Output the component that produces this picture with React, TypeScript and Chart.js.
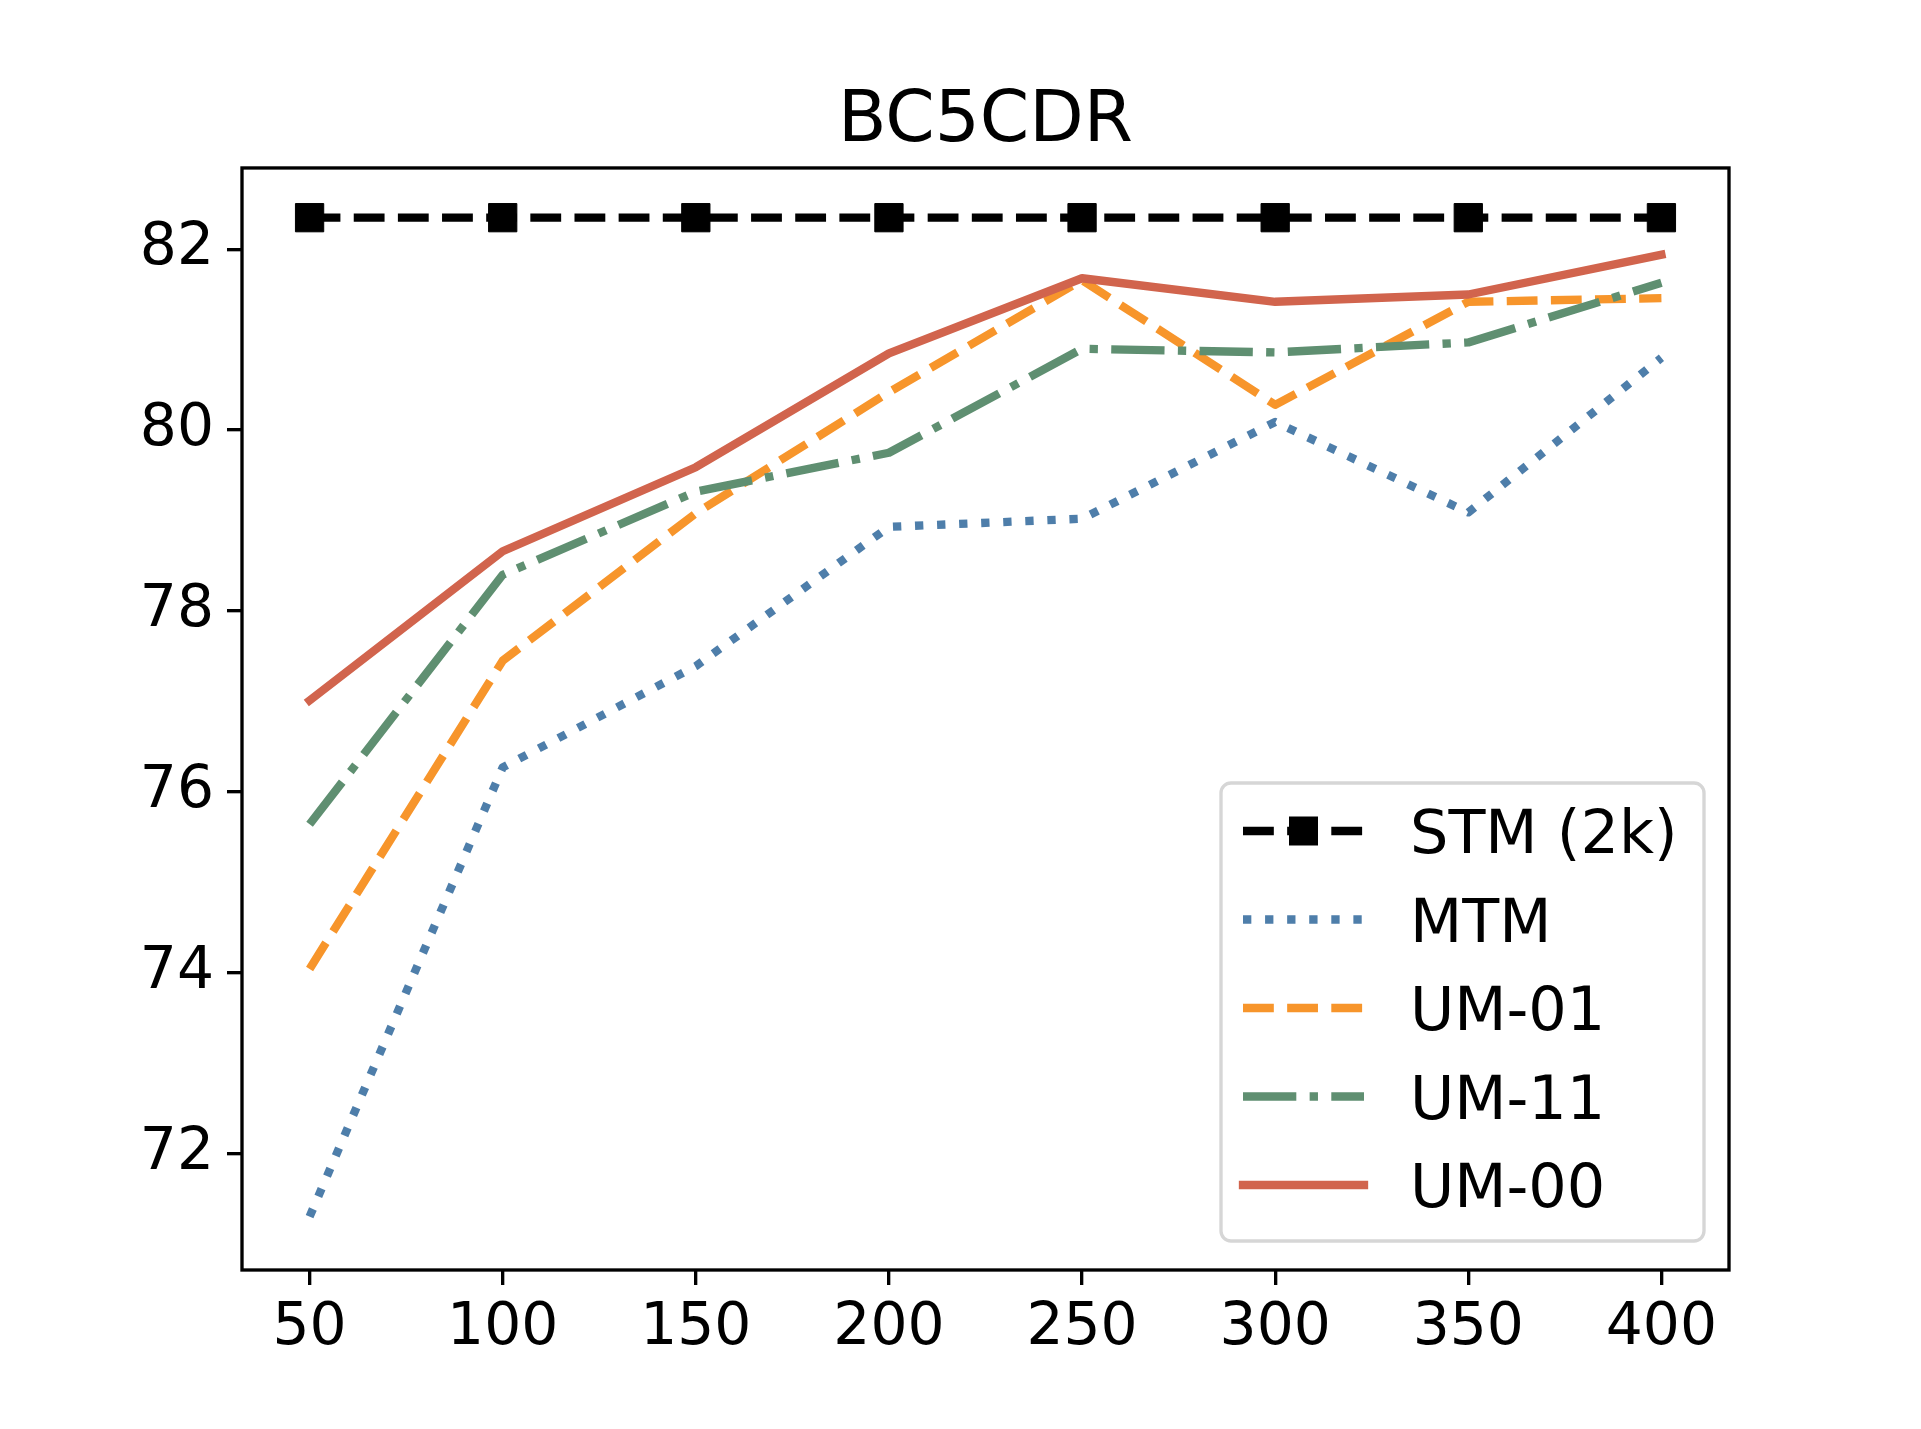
import React, { useEffect, useRef } from 'react';
import { Chart, registerables } from 'chart.js';

Chart.register(...registerables);

// training-set sizes on the x axis
const steps = [50, 100, 150, 200, 250, 300, 350, 400];

// scores
const stm = [82.35, 82.35, 82.35, 82.35, 82.35, 82.35, 82.35, 82.35];
const mtm = [71.3, 76.27, 77.39, 78.93, 79.02, 80.09, 79.09, 80.8];
const um01 = [74.04, 77.45, 79.08, 80.42, 81.66, 80.28, 81.42, 81.46];
const um11 = [75.64, 78.4, 79.32, 79.75, 80.9, 80.86, 80.97, 81.63];
const um00 = [77.01, 78.66, 79.59, 80.85, 81.68, 81.42, 81.5, 81.94];

const seriesNames = ['STM (2k)', 'MTM', 'UM-01', 'UM-11', 'UM-00'];
const xTicks = [50, 100, 150, 200, 250, 300, 350, 400];
const yTicks = [72, 74, 76, 78, 80, 82];

const FONT = '"DejaVu Sans", sans-serif';
const LW = 8.33;

const toPoints = (vals: number[]) => steps.map((x, i) => ({ x, y: vals[i] }));

// box around the plot area, drawn over the lines like matplotlib spines
const framePlugin = {
    id: 'frame',
    afterDatasetsDraw(chart: any) {
        const { ctx, chartArea } = chart;
        ctx.save();
        ctx.lineWidth = 3.33;
        ctx.strokeStyle = '#000';
        ctx.strokeRect(chartArea.left, chartArea.top, chartArea.right - chartArea.left, chartArea.bottom - chartArea.top);
        ctx.restore();
    },
};

// legend in the lower right corner of the plot area
const legendPlugin = {
    id: 'insideLegend',
    afterDraw(chart: any) {
        const { ctx, chartArea } = chart;
        const w = 483;
        const h = 458;
        const x0 = chartArea.right - 25 - w;
        const y0 = chartArea.bottom - 29 - h;
        ctx.save();
        ctx.beginPath();
        ctx.roundRect(x0, y0, w, h, 10);
        ctx.fillStyle = 'rgba(255,255,255,0.8)';
        ctx.fill();
        ctx.lineWidth = 3.33;
        ctx.strokeStyle = 'rgb(214,214,214)';
        ctx.stroke();

        chart.data.datasets.forEach((ds: any, i: number) => {
            const cy = y0 + 48 + i * 88.5;
            const sx = x0 + 22;
            const ex = sx + 121;
            ctx.beginPath();
            ctx.setLineDash(ds.borderDash || []);
            ctx.lineDashOffset = 0;
            ctx.lineCap = ds.borderCapStyle || 'butt';
            ctx.lineWidth = ds.borderWidth;
            ctx.strokeStyle = ds.borderColor;
            ctx.moveTo(sx, cy);
            ctx.lineTo(ex, cy);
            ctx.stroke();
            ctx.setLineDash([]);
            if (ds.pointRadius > 0) {
                ctx.fillStyle = ds.pointBackgroundColor;
                ctx.fillRect((sx + ex) / 2 - 14.5, cy - 14.5, 29, 29);
            }
            ctx.fillStyle = '#000';
            ctx.font = `60.5px ${FONT}`;
            ctx.textAlign = 'left';
            ctx.textBaseline = 'alphabetic';
            ctx.fillText(ds.label, x0 + 189, cy + 22);
        });
        ctx.restore();
    },
};

function App() {
    const chartRef = useRef<HTMLCanvasElement | null>(null);
    const chartInstance = useRef<Chart | null>(null);

    useEffect(() => {
        if (!chartRef.current) return;
        if (chartInstance.current) {
            chartInstance.current.destroy();
        }
        const ctx = chartRef.current.getContext('2d');
        if (!ctx) return;

        const base = {
            borderWidth: LW,
            pointRadius: 0,
            pointHoverRadius: 0,
            fill: false,
            tension: 0,
            borderJoinStyle: 'round' as const,
            borderCapStyle: 'butt' as const,
        };

        chartInstance.current = new Chart(ctx, {
            type: 'line',
            data: {
                datasets: [
                    {
                        ...base,
                        label: seriesNames[0],
                        data: toPoints(stm),
                        borderColor: '#000000',
                        borderDash: [3.7 * LW, 1.6 * LW],
                        pointStyle: 'rect',
                        pointRadius: 20,
                        pointBorderWidth: 1,
                        pointBackgroundColor: '#000000',
                        pointBorderColor: '#000000',
                        order: 4,
                    },
                    {
                        ...base,
                        label: seriesNames[1],
                        data: toPoints(mtm),
                        borderColor: '#4e7eaa',
                        borderDash: [1 * LW, 1.65 * LW],
                        order: 3,
                    },
                    {
                        ...base,
                        label: seriesNames[2],
                        data: toPoints(um01),
                        borderColor: '#f7952b',
                        borderDash: [3.7 * LW, 1.6 * LW],
                        order: 2,
                    },
                    {
                        ...base,
                        label: seriesNames[3],
                        data: toPoints(um11),
                        borderColor: '#5f8f71',
                        borderDash: [6.4 * LW, 1.6 * LW, 1 * LW, 1.6 * LW],
                        order: 1,
                    },
                    {
                        ...base,
                        label: seriesNames[4],
                        data: toPoints(um00),
                        borderColor: '#d1644d',
                        borderCapStyle: 'square',
                        order: 0,
                    },
                ] as any,
            },
            options: {
                animation: false,
                responsive: true,
                maintainAspectRatio: false,
                devicePixelRatio: 1,
                layout: {
                    padding: { left: 0, top: 0, right: 192, bottom: 0 },
                },
                plugins: {
                    legend: { display: false },
                    tooltip: { enabled: false },
                    title: {
                        display: true,
                        text: 'BC5CDR',
                        fullSize: false,
                        color: '#000',
                        font: { family: FONT, size: 70.8, weight: 'normal' },
                        padding: { top: 80.5, bottom: 2.5 },
                    },
                },
                scales: {
                    x: {
                        type: 'linear',
                        min: 32.5,
                        max: 417.5,
                        afterBuildTicks: (s: any) => {
                            s.ticks = xTicks.map(v => ({ value: v }));
                        },
                        afterFit: (s: any) => {
                            s.height = 159;
                        },
                        border: { display: false },
                        grid: {
                            drawOnChartArea: false,
                            drawTicks: true,
                            tickLength: 15,
                            color: '#000',
                            lineWidth: 3.33,
                        },
                        ticks: {
                            color: '#000',
                            font: { family: FONT, size: 58.3 },
                            padding: 9,
                            maxRotation: 0,
                            autoSkip: false,
                        },
                    },
                    y: {
                        type: 'linear',
                        min: 70.71,
                        max: 82.9,
                        afterBuildTicks: (s: any) => {
                            s.ticks = yTicks.map(v => ({ value: v }));
                        },
                        afterFit: (s: any) => {
                            s.width = 242;
                        },
                        border: { display: false },
                        grid: {
                            drawOnChartArea: false,
                            drawTicks: true,
                            tickLength: 15,
                            color: '#000',
                            lineWidth: 3.33,
                        },
                        ticks: {
                            color: '#000',
                            font: { family: FONT, size: 58.3 },
                            padding: 13,
                            autoSkip: false,
                        },
                    },
                },
            },
            plugins: [framePlugin, legendPlugin],
        });

        return () => {
            if (chartInstance.current) {
                chartInstance.current.destroy();
                chartInstance.current = null;
            }
        };
    }, []);

    return (
        <div style={{ position: 'fixed', left: 0, top: 0, width: 1921, height: 1429, background: '#fff' }}>
            <canvas ref={chartRef} />
        </div>
    );
}

export default App;
